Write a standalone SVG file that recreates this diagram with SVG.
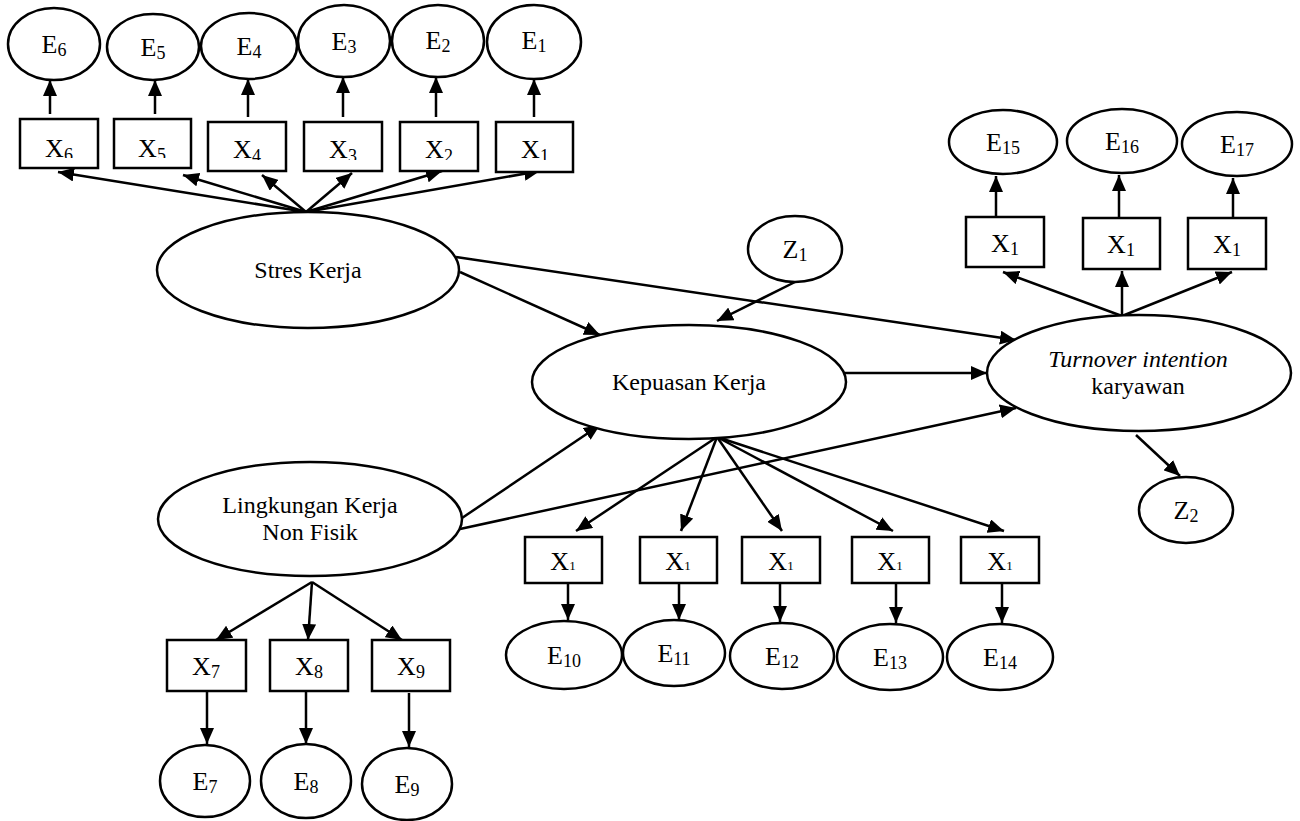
<svg xmlns="http://www.w3.org/2000/svg" width="1300" height="821" viewBox="0 0 1300 821">
<defs>
<style>
.n{fill:#fff;stroke:#000;stroke-width:2.5}
.t{font-family:"Liberation Serif","Times New Roman",serif;font-size:24px;fill:#000;text-anchor:middle}
.l{font-size:26px}
.s{font-size:18px}
.k{font-size:13px}
.c line{stroke:#000;stroke-width:2.5;marker-end:url(#a)}
</style>
<marker id="a" markerUnits="userSpaceOnUse" markerWidth="16" markerHeight="14" refX="16" refY="7" orient="auto">
<path d="M0,0 L16,7 L0,14 z" fill="#000"/>
</marker>
<clipPath id="cA"><rect x="0" y="110" width="200" height="48"/></clipPath>
<clipPath id="cB"><rect x="200" y="110" width="400" height="50"/></clipPath>
</defs>
<rect width="1300" height="821" fill="#fff"/>

<g id="connectors" class="c">
<line x1="50" y1="114" x2="50" y2="80"/>
<line x1="155" y1="114" x2="155" y2="80"/>
<line x1="248" y1="117" x2="248" y2="79"/>
<line x1="343" y1="117" x2="343" y2="77"/>
<line x1="436" y1="117" x2="436" y2="77"/>
<line x1="534" y1="117" x2="534" y2="79"/>
<line x1="306" y1="212" x2="58" y2="172"/>
<line x1="306" y1="212" x2="183" y2="175"/>
<line x1="306" y1="212" x2="262" y2="175"/>
<line x1="306" y1="212" x2="352" y2="173"/>
<line x1="306" y1="212" x2="442" y2="171"/>
<line x1="306" y1="212" x2="540" y2="171"/>
<line x1="460" y1="272" x2="600" y2="335"/>
<line x1="456" y1="257" x2="1016" y2="340"/>
<line x1="795" y1="282" x2="717" y2="321"/>
<line x1="845" y1="373" x2="987" y2="373"/>
<line x1="462" y1="518" x2="600" y2="425"/>
<line x1="460" y1="529" x2="1016" y2="408"/>
<line x1="1136" y1="435" x2="1180" y2="476"/>
<line x1="1122" y1="316" x2="1003" y2="272"/>
<line x1="1122" y1="316" x2="1122" y2="271"/>
<line x1="1122" y1="316" x2="1232" y2="272"/>
<line x1="996" y1="216" x2="996" y2="176"/>
<line x1="1119" y1="217" x2="1119" y2="175"/>
<line x1="1233" y1="217" x2="1233" y2="178"/>
<line x1="717" y1="437" x2="576" y2="531"/>
<line x1="717" y1="437" x2="681" y2="531"/>
<line x1="717" y1="437" x2="782" y2="531"/>
<line x1="717" y1="437" x2="893" y2="531"/>
<line x1="717" y1="437" x2="1004" y2="531"/>
<line x1="568" y1="583" x2="568" y2="620"/>
<line x1="679" y1="583" x2="679" y2="620"/>
<line x1="780" y1="583" x2="780" y2="622"/>
<line x1="896" y1="583" x2="896" y2="623"/>
<line x1="1002" y1="583" x2="1002" y2="623"/>
<line x1="312" y1="582" x2="216" y2="640"/>
<line x1="312" y1="582" x2="308" y2="640"/>
<line x1="312" y1="582" x2="402" y2="640"/>
<line x1="207" y1="691" x2="207" y2="744"/>
<line x1="306" y1="691" x2="306" y2="744"/>
<line x1="409" y1="693" x2="409" y2="747"/>
</g>

<g id="E6"><ellipse class="n" cx="54" cy="44" rx="46" ry="36"/><text class="t l" x="54" y="53">E<tspan class="s" dy="3">6</tspan></text></g>
<g id="E5"><ellipse class="n" cx="153" cy="47" rx="46" ry="33"/><text class="t l" x="153" y="56">E<tspan class="s" dy="3">5</tspan></text></g>
<g id="E4"><ellipse class="n" cx="249" cy="46" rx="48" ry="33"/><text class="t l" x="249" y="55">E<tspan class="s" dy="3">4</tspan></text></g>
<g id="E3"><ellipse class="n" cx="344" cy="41" rx="46" ry="36"/><text class="t l" x="344" y="50">E<tspan class="s" dy="3">3</tspan></text></g>
<g id="E2"><ellipse class="n" cx="438" cy="41" rx="46" ry="36"/><text class="t l" x="438" y="49">E<tspan class="s" dy="3">2</tspan></text></g>
<g id="E1"><ellipse class="n" cx="534" cy="42" rx="47" ry="37"/><text class="t l" x="534" y="49">E<tspan class="s" dy="3">1</tspan></text></g>

<g id="X6"><rect class="n" x="20" y="119" width="78" height="49"/><text class="t l" x="59" y="157" clip-path="url(#cA)">X<tspan class="s" dy="4">6</tspan></text></g>
<g id="X5"><rect class="n" x="114" y="119" width="77" height="49"/><text class="t l" x="152" y="157" clip-path="url(#cA)">X<tspan class="s" dy="4">5</tspan></text></g>
<g id="X4"><rect class="n" x="208" y="122" width="78" height="49"/><text class="t l" x="247" y="158" clip-path="url(#cB)">X<tspan class="s" dy="4">4</tspan></text></g>
<g id="X3"><rect class="n" x="304" y="122" width="78" height="49"/><text class="t l" x="343" y="158" clip-path="url(#cB)">X<tspan class="s" dy="4">3</tspan></text></g>
<g id="X2"><rect class="n" x="400" y="122" width="78" height="49"/><text class="t l" x="439" y="158" clip-path="url(#cB)">X<tspan class="s" dy="4">2</tspan></text></g>
<g id="X1"><rect class="n" x="496" y="122" width="77" height="50"/><text class="t l" x="535" y="158" clip-path="url(#cB)">X<tspan class="s" dy="4">1</tspan></text></g>

<g id="stres"><ellipse class="n" cx="308" cy="270" rx="151" ry="58"/><text class="t" x="308" y="278">Stres Kerja</text></g>
<g id="kepuasan"><ellipse class="n" cx="689" cy="382" rx="157" ry="57"/><text class="t" x="689" y="390">Kepuasan Kerja</text></g>
<g id="lingkungan"><ellipse class="n" cx="310" cy="519" rx="152" ry="57"/><text class="t" x="310" y="513">Lingkungan Kerja</text><text class="t" x="310" y="540">Non Fisik</text></g>
<g id="turnover"><ellipse class="n" cx="1139" cy="373" rx="152" ry="58"/><text class="t" x="1138" y="367" font-style="italic">Turnover intention</text><text class="t" x="1138" y="394">karyawan</text></g>

<g id="Z1"><ellipse class="n" cx="795" cy="249" rx="47" ry="33"/><text class="t l" x="795" y="258">Z<tspan class="s" dy="3">1</tspan></text></g>
<g id="Z2"><ellipse class="n" cx="1186" cy="510" rx="47" ry="33"/><text class="t l" x="1186" y="519">Z<tspan class="s" dy="3">2</tspan></text></g>

<g id="E15"><ellipse class="n" cx="1003" cy="142" rx="54" ry="32"/><text class="t l" x="1003" y="151">E<tspan class="s" dy="3">15</tspan></text></g>
<g id="E16"><ellipse class="n" cx="1122" cy="141" rx="55" ry="32"/><text class="t l" x="1122" y="150">E<tspan class="s" dy="3">16</tspan></text></g>
<g id="E17"><ellipse class="n" cx="1237" cy="144" rx="55" ry="32"/><text class="t l" x="1237" y="153">E<tspan class="s" dy="3">17</tspan></text></g>
<g id="X15"><rect class="n" x="966" y="217" width="78" height="50"/><text class="t l" x="1005" y="252">X<tspan class="s" dy="3">1</tspan></text></g>
<g id="X16"><rect class="n" x="1083" y="218" width="77" height="51"/><text class="t l" x="1121" y="253">X<tspan class="s" dy="3">1</tspan></text></g>
<g id="X17"><rect class="n" x="1188" y="218" width="78" height="51"/><text class="t l" x="1227" y="253">X<tspan class="s" dy="3">1</tspan></text></g>

<g id="X10"><rect class="n" x="525" y="537" width="77" height="46"/><text class="t l" x="563" y="570">X<tspan class="k">1</tspan></text></g>
<g id="X11"><rect class="n" x="640" y="537" width="77" height="46"/><text class="t l" x="678" y="570">X<tspan class="k">1</tspan></text></g>
<g id="X12"><rect class="n" x="742" y="537" width="78" height="46"/><text class="t l" x="781" y="570">X<tspan class="k">1</tspan></text></g>
<g id="X13"><rect class="n" x="852" y="537" width="77" height="46"/><text class="t l" x="890" y="570">X<tspan class="k">1</tspan></text></g>
<g id="X14"><rect class="n" x="961" y="537" width="78" height="46"/><text class="t l" x="1000" y="570">X<tspan class="k">1</tspan></text></g>

<g id="E10"><ellipse class="n" cx="564" cy="655" rx="58" ry="34"/><text class="t l" x="564" y="664">E<tspan class="s" dy="3">10</tspan></text></g>
<g id="E11"><ellipse class="n" cx="674" cy="653" rx="51" ry="33"/><text class="t l" x="674" y="662">E<tspan class="s" dy="3">11</tspan></text></g>
<g id="E12"><ellipse class="n" cx="782" cy="656" rx="52" ry="33"/><text class="t l" x="782" y="665">E<tspan class="s" dy="3">12</tspan></text></g>
<g id="E13"><ellipse class="n" cx="890" cy="657" rx="53" ry="33"/><text class="t l" x="890" y="666">E<tspan class="s" dy="3">13</tspan></text></g>
<g id="E14"><ellipse class="n" cx="1000" cy="657" rx="53" ry="33"/><text class="t l" x="1000" y="666">E<tspan class="s" dy="3">14</tspan></text></g>

<g id="X7"><rect class="n" x="167" y="640" width="79" height="51"/><text class="t l" x="206" y="675">X<tspan class="s" dy="3">7</tspan></text></g>
<g id="X8"><rect class="n" x="270" y="640" width="78" height="51"/><text class="t l" x="309" y="675">X<tspan class="s" dy="3">8</tspan></text></g>
<g id="X9"><rect class="n" x="372" y="640" width="78" height="51"/><text class="t l" x="411" y="675">X<tspan class="s" dy="3">9</tspan></text></g>

<g id="E7"><ellipse class="n" cx="205" cy="781" rx="45" ry="36"/><text class="t l" x="205" y="790">E<tspan class="s" dy="3">7</tspan></text></g>
<g id="E8"><ellipse class="n" cx="306" cy="781" rx="45" ry="37"/><text class="t l" x="306" y="790">E<tspan class="s" dy="3">8</tspan></text></g>
<g id="E9"><ellipse class="n" cx="407" cy="784" rx="45" ry="36"/><text class="t l" x="407" y="793">E<tspan class="s" dy="3">9</tspan></text></g>
</svg>
